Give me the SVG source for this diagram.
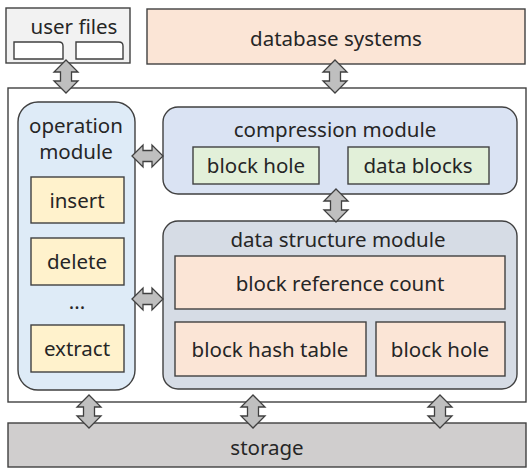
<svg xmlns="http://www.w3.org/2000/svg" width="531" height="473" viewBox="0 0 531 473">
<defs>
<style>
text{font-family:"Noto Sans","Open Sans","Liberation Sans",sans-serif;font-size:20.5px;fill:#262626;text-anchor:middle}
.b{stroke:#404040;stroke-width:1.4}
.arr{fill:#bfbfbf;stroke:#404040;stroke-width:1.3;stroke-linejoin:miter}
</style>
<path id="va" d="M0,0 L12,12 L5.5,12 L5.5,21 L12,21 L0,33 L-12,21 L-5.5,21 L-5.5,12 L-12,12 Z"/>
<path id="ha" d="M0,0 L11,-11 L11,-5.5 L20,-5.5 L20,-11 L31,0 L20,11 L20,5.5 L11,5.5 L11,11 Z"/>
</defs>
<rect width="531" height="473" fill="#ffffff"/>
<g id="user-files">
<rect class="b" x="6" y="8" width="124" height="55" fill="#f2f2f2"/>
<text x="74" y="34">user files</text>
<path class="b" d="M14,42 H59 Q63,42 63,46 V59 H14 Z" fill="#ffffff"/>
<path class="b" d="M76,42 H119 Q123,42 123,46 V59 H76 Z" fill="#ffffff"/>
</g>
<g id="database-systems">
<rect class="b" x="147" y="9" width="378" height="55" fill="#fbe5d6"/>
<text x="336" y="46">database systems</text>
</g>
<g id="frame">
<rect class="b" x="8" y="88" width="518" height="314" fill="#ffffff"/>
</g>
<g id="operation-module">
<rect class="b" x="18" y="102" width="117" height="288" rx="20" fill="#deebf7"/>
<text x="76" y="133">operation</text>
<text x="76" y="159">module</text>
</g>
<g id="insert">
<rect class="b" x="31" y="177" width="93" height="46" fill="#fff2cc"/>
<text x="77" y="208">insert</text>
</g>
<g id="delete">
<rect class="b" x="31" y="238" width="93" height="47" fill="#fff2cc"/>
<text x="77" y="269">delete</text>
</g>
<g id="ellipsis">
<text x="77" y="309">...</text>
</g>
<g id="extract">
<rect class="b" x="31" y="325" width="93" height="47" fill="#fff2cc"/>
<text x="77" y="356">extract</text>
</g>
<g id="compression-module">
<rect class="b" x="163" y="107" width="354" height="87" rx="15" fill="#dae3f3"/>
<text x="335" y="137">compression module</text>
</g>
<g id="comp-block-hole">
<rect class="b" x="193" y="147" width="126" height="37" fill="#e2f0d9"/>
<text x="256" y="173">block hole</text>
</g>
<g id="data-blocks">
<rect class="b" x="348" y="147" width="141" height="37" fill="#e2f0d9"/>
<text x="418" y="173">data blocks</text>
</g>
<g id="data-structure-module">
<rect class="b" x="163" y="221" width="354" height="168" rx="15" fill="#d6dce5"/>
<text x="338" y="247">data structure module</text>
</g>
<g id="block-reference-count">
<rect class="b" x="175" y="256" width="330" height="53" fill="#fbe5d6"/>
<text x="340" y="291">block reference count</text>
</g>
<g id="block-hash-table">
<rect class="b" x="175" y="322" width="191" height="54" fill="#fbe5d6"/>
<text x="270" y="357">block hash table</text>
</g>
<g id="ds-block-hole">
<rect class="b" x="376" y="322" width="129" height="54" fill="#fbe5d6"/>
<text x="440" y="357">block hole</text>
</g>
<g id="storage">
<rect class="b" x="8" y="423" width="518" height="44" fill="#d0cece"/>
<text x="267" y="455">storage</text>
</g>
<g id="connectors">
<use href="#va" class="arr" x="66" y="60"/>
<use href="#va" class="arr" x="335" y="60"/>
<use href="#va" class="arr" x="336" y="189"/>
<use href="#ha" class="arr" x="132" y="156"/>
<use href="#ha" class="arr" x="132" y="299"/>
<use href="#va" class="arr" x="89" y="395"/>
<use href="#va" class="arr" x="253" y="395"/>
<use href="#va" class="arr" x="440" y="395"/>
</g>
</svg>
